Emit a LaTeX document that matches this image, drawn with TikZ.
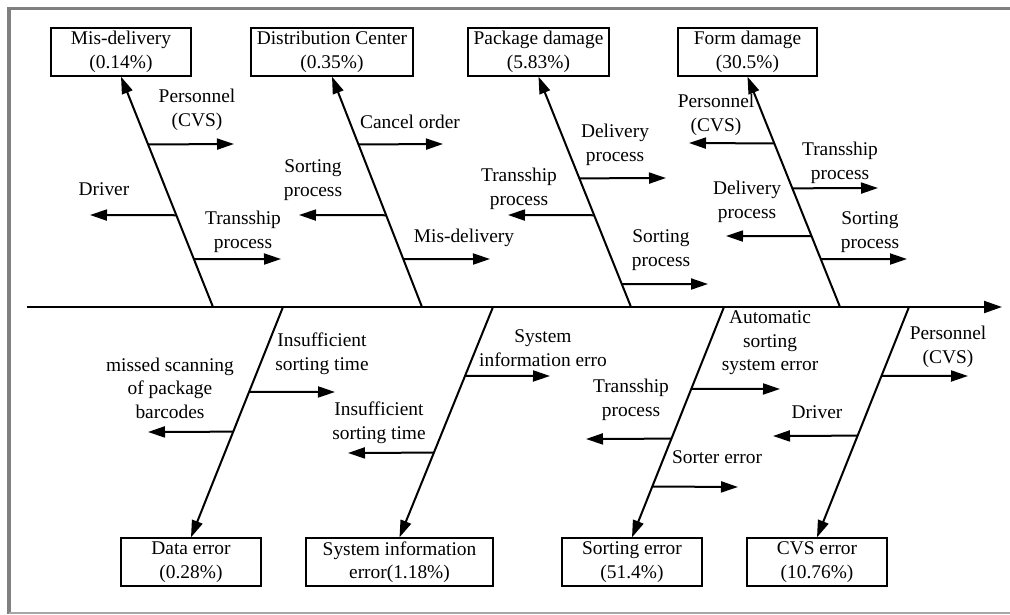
\documentclass[tikz,border=0pt]{standalone}
\usepackage{fontspec}
\setmainfont{Liberation Serif}
\usetikzlibrary{arrows.meta,calc}
\begin{document}
\begin{tikzpicture}[x=1pt,y=-1pt,
  txt/.style={font=\fontsize{19.4}{23.5}\selectfont},
  bone/.style={line width=2pt,-{Triangle[length=17pt,width=11pt]}},
  sub/.style={line width=2pt,-{Triangle[length=17pt,width=11pt]}},
  box/.style={txt,draw,line width=1.3pt,minimum height=48pt,inner sep=0pt,align=center},
  lbl/.style={txt,align=center,inner sep=0pt}]
\useasboundingbox (0,0) rectangle (1010,614);
% frame
\draw[black!50,line width=3.5pt] (9,614) -- (9,8.5) -- (1010,8.5);
\draw[black!35,line width=2pt] (9,613) -- (1010,613);
% spine
\coordinate (spS) at (27,307);
\coordinate (spE) at (1002,307);
\draw[bone,-{Triangle[length=18pt,width=12pt]}] (spS) -- (spE);
% boxes
\node[box,minimum width=140pt] (b1) at (121,52) {Mis-delivery\\(0.14\%)};
\node[box,minimum width=162pt] (b2) at (332,52) {Distribution Center\\(0.35\%)};
\node[box,minimum width=141pt] (b3) at (538.5,52) {Package damage\\(5.83\%)};
\node[box,minimum width=139pt] (b4) at (747.5,52) {Form damage\\(30.5\%)};
\node[box,minimum width=140pt] (b5) at (191,562) {Data error\\(0.28\%)};
\node[box,minimum width=187pt] (b6) at (399.5,562) {System information\\error(1.18\%)};
\node[box,minimum width=140pt] (b7) at (632,562) {Sorting error\\(51.4\%)};
\node[box,minimum width=140pt] (b8) at (817,562) {CVS error\\(10.76\%)};
% bone roots
\coordinate (t1) at (213,307);
\coordinate (t2) at (422,307);
\coordinate (t3) at (631,307);
\coordinate (t4) at (840,307);
\coordinate (u5) at (283,307);
\coordinate (u6) at (493,307);
\coordinate (u7) at (724,307);
\coordinate (u8) at (909,307);
\draw[bone] (t1) -- (b1.south);
\draw[bone] (t2) -- (b2.south);
\draw[bone] (t3) -- (b3.south);
\draw[bone] (t4) -- (b4.south);
\draw[bone] (u5) -- (b5.north);
\draw[bone] (u6) -- (b6.north);
\draw[bone] (u7) -- (b7.north);
\draw[bone] (u8) -- (b8.north);
% branch starts
\coordinate (a11) at ($(t1)!0.7056!(b1.south)$);
\coordinate (a12) at ($(t1)!0.3983!(b1.south)$);
\coordinate (a13) at ($(t1)!0.2078!(b1.south)$);
\coordinate (a21) at ($(t2)!0.7056!(b2.south)$);
\coordinate (a22) at ($(t2)!0.3983!(b2.south)$);
\coordinate (a23) at ($(t2)!0.2078!(b2.south)$);
\coordinate (a31) at ($(t3)!0.5584!(b3.south)$);
\coordinate (a32) at ($(t3)!0.3983!(b3.south)$);
\coordinate (a33) at ($(t3)!0.0996!(b3.south)$);
\coordinate (a41) at ($(t4)!0.7100!(b4.south)$);
\coordinate (a42) at ($(t4)!0.5152!(b4.south)$);
\coordinate (a43) at ($(t4)!0.3074!(b4.south)$);
\coordinate (a44) at ($(t4)!0.2078!(b4.south)$);
\coordinate (a51) at ($(u5)!0.3680!(b5.north)$);
\coordinate (a52) at ($(u5)!0.5411!(b5.north)$);
\coordinate (a61) at ($(u6)!0.2987!(b6.north)$);
\coordinate (a62) at ($(u6)!0.6320!(b6.north)$);
\coordinate (a71) at ($(u7)!0.3550!(b7.north)$);
\coordinate (a72) at ($(u7)!0.5714!(b7.north)$);
\coordinate (a73) at ($(u7)!0.7792!(b7.north)$);
\coordinate (a81) at ($(u8)!0.2987!(b8.north)$);
\coordinate (a82) at ($(u8)!0.5584!(b8.north)$);
% branch ends
\coordinate (e11) at (234,144);
\coordinate (e12) at (90,215);
\coordinate (e13) at (281,259);
\coordinate (e21) at (443,144);
\coordinate (e22) at (299,215);
\coordinate (e23) at (490,259);
\coordinate (e31) at (666,178);
\coordinate (e32) at (508,215);
\coordinate (e33) at (708,284);
\coordinate (e41) at (689,143);
\coordinate (e42) at (878,188);
\coordinate (e43) at (726,236);
\coordinate (e44) at (907,259);
\coordinate (e51) at (335,392);
\coordinate (e52) at (148,432);
\coordinate (e61) at (550,376);
\coordinate (e62) at (348,453);
\coordinate (e71) at (780,389);
\coordinate (e72) at (586,439);
\coordinate (e73) at (738,487);
\coordinate (e81) at (968,376);
\coordinate (e82) at (773,436);
\foreach \n in {11,12,13,21,22,23,31,32,33,41,42,43,44,51,52,61,62,71,72,73,81,82}
  \draw[sub] (a\n) -- (e\n);
% labels
\node[lbl] (l11) at (197,110) {Personnel\\(CVS)};
\node[lbl] (l12) at (104,189) {Driver};
\node[lbl] (l13) at (243,232) {Transship\\process};
\node[lbl] (l21) at (410,122) {Cancel order};
\node[lbl] (l22) at (313,180) {Sorting\\process};
\node[lbl] (l23) at (464,238) {Mis-delivery};
\node[lbl] (l31) at (615,145) {Delivery\\process};
\node[lbl] (l32) at (519,189) {Transship\\process};
\node[lbl] (l33) at (661,250) {Sorting\\process};
\node[lbl] (l41) at (716,115) {Personnel\\(CVS)};
\node[lbl] (l42) at (840,163) {Transship\\process};
\node[lbl] (l43) at (747,202) {Delivery\\process};
\node[lbl] (l44) at (870,232) {Sorting\\process};
\node[lbl] (l51) at (322,354) {Insufficient\\sorting time};
\node[lbl] (l52) at (170,388) {missed scanning\\of package\\barcodes};
\node[lbl] (l61) at (543,348) {System\\information erro};
\node[lbl] (l62) at (379,423) {Insufficient\\sorting time};
\node[lbl] (l71) at (770,343) {Automatic\\sorting\\system error};
\node[lbl] (l72) at (631,400) {Transship\\process};
\node[lbl] (l73) at (717,457) {Sorter error};
\node[lbl] (l81) at (948,347) {Personnel\\(CVS)};
\node[lbl] (l82) at (817,412) {Driver};
\end{tikzpicture}
\end{document}
